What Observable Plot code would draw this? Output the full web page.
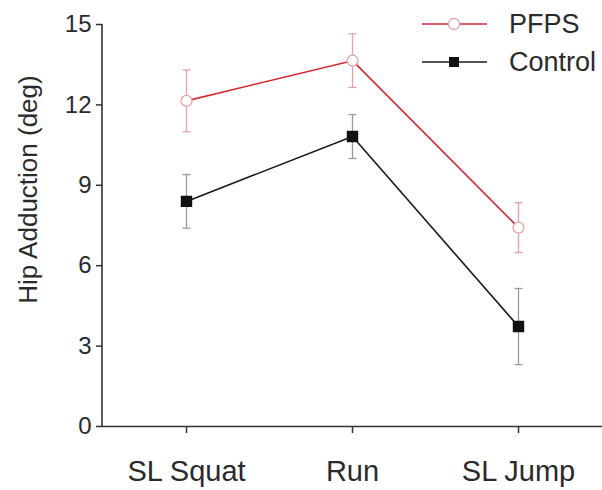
<!DOCTYPE html>
<html><head><meta charset="utf-8">
<script src="https://cdn.jsdelivr.net/npm/d3@7"></script>
<script src="https://cdn.jsdelivr.net/npm/@observablehq/plot@0.6"></script>
<style>
body{margin:0;background:#fff;}
#chart{position:relative;width:602px;height:490px;}
svg{font-family:"Liberation Sans",Arial,sans-serif;}
</style>
</head><body><div id="chart"></div>
<script>
const tasks = ["SL Squat", "Run", "SL Jump"];
const pfpsMean = [12.15, 13.65, 7.42];
const pfpsErr = [1.15, 1.0, 0.93];
const controlMean = [8.4, 10.82, 3.73];
const controlErr = [1.0, 0.82, 1.42];
const yTicks = [0, 3, 6, 9, 12, 15];
const groups = ["PFPS", "Control"];

const redLine = "#d22a32", redBar = "#e6a2a8", redMarker = "#e8a0a6";
const blackLine = "#1a1a1a", grayBar = "#9a9a9a";
const axisColor = "#333";

const pfps = tasks.map((t, i) => ({task: t, mean: pfpsMean[i], lo: pfpsMean[i] - pfpsErr[i], hi: pfpsMean[i] + pfpsErr[i]}));
const control = tasks.map((t, i) => ({task: t, mean: controlMean[i], lo: controlMean[i] - controlErr[i], hi: controlMean[i] + controlErr[i]}));

const cap = {draw(ctx, size) { const w = Math.sqrt(size / Math.PI); ctx.moveTo(-w, 0); ctx.lineTo(w, 0); }};

function bars(data, color) {
  return [
    Plot.ruleX(data, {x: "task", y1: "lo", y2: "hi", stroke: color, strokeWidth: 1.3}),
    Plot.dot(data, {x: "task", y: "lo", symbol: cap, r: 4, stroke: color, strokeWidth: 1.3}),
    Plot.dot(data, {x: "task", y: "hi", symbol: cap, r: 4, stroke: color, strokeWidth: 1.3})
  ];
}

const chart = Plot.plot({
  width: 602, height: 490,
  marginLeft: 102, marginRight: 0, marginTop: 24, marginBottom: 64,
  style: {fontFamily: "'Liberation Sans', Arial, sans-serif", background: "#fff"},
  x: {type: "point", domain: tasks, padding: 0.5},
  y: {domain: [0, 15]},
  marks: [
    Plot.ruleY([0], {stroke: axisColor, strokeWidth: 1.6}),
    Plot.axisY({ticks: yTicks, tickSize: 6, tickPadding: 5, fontSize: 24, stroke: axisColor, strokeWidth: 1.5, color: "#2a2a2a", label: null}),
    Plot.axisX({tickSize: 7, tickPadding: 27, fontSize: 29, stroke: axisColor, strokeWidth: 1.5, color: "#2a2a2a", label: null}),
    Plot.text(["Hip Adduction (deg)"], {frameAnchor: "left", textAnchor: "middle", rotate: -90, dx: -74, dy: -36, fontSize: 26, fill: "#2a2a2a"}),
    ...bars(pfps, redBar),
    ...bars(control, grayBar),
    Plot.line(pfps, {x: "task", y: "mean", stroke: redLine, strokeWidth: 1.6}),
    Plot.line(control, {x: "task", y: "mean", stroke: blackLine, strokeWidth: 1.6}),
    Plot.dot(pfps, {x: "task", y: "mean", r: 5.5, fill: "#fff", stroke: redMarker, strokeWidth: 1.3}),
    Plot.dot(control, {x: "task", y: "mean", symbol: "square", r: 5.6, fill: "#111", stroke: "#111"})
  ]
});
document.getElementById("chart").appendChild(chart);

const svg = d3.select(chart);
// y axis line, positioned through the plot's own y scale
const yScale = chart.scale("y");
const y0 = yScale.apply(0), y15 = yScale.apply(15);
svg.append("line").attr("x1", 102).attr("x2", 102).attr("y1", y15).attr("y2", y0 + 0.8)
  .attr("stroke", axisColor).attr("stroke-width", 1.6);

// legend
const lg = svg.append("g").attr("text-anchor", "start");
const legendItems = [
  {name: groups[0], line: redLine, marker: "circle"},
  {name: groups[1], line: blackLine, marker: "square"}
];
legendItems.forEach((d, i) => {
  const y = 24 + i * 38;
  lg.append("line").attr("x1", 422).attr("x2", 487).attr("y1", y).attr("y2", y).attr("stroke", d.line).attr("stroke-width", 1.6);
  if (d.marker === "circle") {
    lg.append("circle").attr("cx", 454).attr("cy", y).attr("r", 5.5).attr("fill", "#fff").attr("stroke", redMarker).attr("stroke-width", 1.3);
  } else {
    lg.append("rect").attr("x", 449).attr("y", y - 5).attr("width", 10).attr("height", 10).attr("fill", "#111");
  }
  lg.append("text").attr("x", 509).attr("y", y).attr("dy", "0.35em").attr("font-size", 27).attr("fill", "#2a2a2a").text(d.name);
});
</script>
</body></html>
